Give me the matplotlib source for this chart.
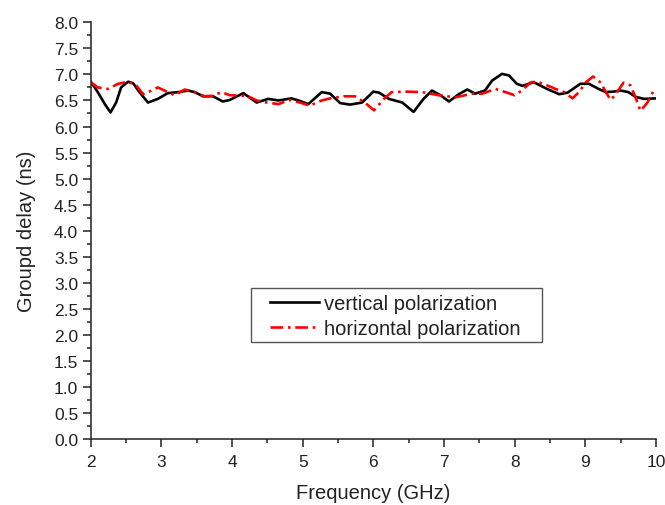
import matplotlib
matplotlib.use("Agg")
import matplotlib.pyplot as plt
from matplotlib.ticker import MultipleLocator, FormatStrFormatter
from matplotlib.patches import Rectangle

plt.rcParams['font.family'] = ['Liberation Sans', 'DejaVu Sans']

freq_v = [2.00, 2.10, 2.20, 2.28, 2.36, 2.43, 2.53, 2.60, 2.69, 2.81, 2.95, 3.09, 3.24, 3.38, 3.47,
          3.59, 3.73, 3.87, 3.97, 4.16, 4.35, 4.51, 4.66, 4.84, 4.94, 5.08, 5.27, 5.39, 5.53, 5.67,
          5.84, 6.00, 6.08, 6.22, 6.41, 6.57, 6.71, 6.83, 6.95, 7.07, 7.21, 7.33, 7.44, 7.58, 7.68,
          7.82, 7.92, 8.03, 8.11, 8.27, 8.46, 8.63, 8.75, 8.93, 9.05, 9.19, 9.29, 9.40, 9.50, 9.61,
          9.71, 9.83, 10.00]
delay_v = [6.86, 6.66, 6.43, 6.27, 6.46, 6.75, 6.86, 6.83, 6.66, 6.46, 6.53, 6.64, 6.66, 6.69, 6.66,
           6.58, 6.58, 6.48, 6.51, 6.64, 6.46, 6.53, 6.50, 6.54, 6.50, 6.43, 6.66, 6.63, 6.45, 6.42,
           6.46, 6.67, 6.65, 6.53, 6.46, 6.28, 6.53, 6.69, 6.60, 6.48, 6.62, 6.71, 6.63, 6.69, 6.88,
           7.01, 6.98, 6.82, 6.78, 6.85, 6.72, 6.62, 6.65, 6.82, 6.82, 6.72, 6.66, 6.67, 6.69, 6.66,
           6.57, 6.53, 6.54]

freq_h = [2.00, 2.10, 2.24, 2.39, 2.53, 2.65, 2.74, 2.83, 2.95, 3.09, 3.19, 3.33, 3.47, 3.61, 3.73,
          3.85, 3.97, 4.21, 4.35, 4.49, 4.66, 4.81, 4.96, 5.10, 5.27, 5.39, 5.58, 5.74, 5.88, 6.01,
          6.15, 6.26, 6.45, 6.69, 6.93, 7.16, 7.40, 7.54, 7.73, 7.87, 8.00, 8.09, 8.23, 8.32, 8.44,
          8.58, 8.70, 8.82, 8.91, 9.01, 9.11, 9.22, 9.29, 9.36, 9.43, 9.54, 9.64, 9.71, 9.78, 9.88,
          9.96]
delay_h = [6.85, 6.75, 6.72, 6.82, 6.86, 6.78, 6.62, 6.67, 6.75, 6.66, 6.60, 6.71, 6.66, 6.58, 6.59,
           6.66, 6.60, 6.59, 6.50, 6.46, 6.43, 6.51, 6.46, 6.40, 6.50, 6.54, 6.58, 6.58, 6.46, 6.31,
           6.53, 6.66, 6.67, 6.66, 6.60, 6.56, 6.63, 6.63, 6.72, 6.66, 6.60, 6.68, 6.85, 6.86, 6.80,
           6.72, 6.66, 6.54, 6.66, 6.85, 6.96, 6.84, 6.66, 6.51, 6.62, 6.84, 6.79, 6.56, 6.30, 6.46,
           6.67]

fig = plt.figure(figsize=(6.65, 5.06), dpi=100)
ax = fig.add_axes([0.1364, 0.130, 0.850, 0.824])

ax.plot(freq_v, delay_v, color='black', lw=1.9, label='vertical polarization')
ax.plot(freq_h, delay_h, color='red', lw=1.9, dashes=(4.8, 1.8, 1.0, 1.8), label='horizontal polarization')

ax.set_xlim(2, 10)
ax.set_ylim(0, 8)
ax.xaxis.set_major_locator(MultipleLocator(1))
ax.xaxis.set_minor_locator(MultipleLocator(0.5))
ax.yaxis.set_major_locator(MultipleLocator(0.5))
ax.yaxis.set_minor_locator(MultipleLocator(0.25))
ax.yaxis.set_major_formatter(FormatStrFormatter('%.1f'))
ax.spines['top'].set_visible(False)
ax.spines['right'].set_visible(False)
for s in ('left', 'bottom'):
    ax.spines[s].set_linewidth(1.1)
    ax.spines[s].set_color('#222222')
ax.tick_params(which='major', direction='out', length=6, width=1.1, labelsize=12.5,
               colors='#222222')
ax.tick_params(axis='y', which='major', pad=3)
ax.tick_params(axis='x', which='major', pad=5)
ax.tick_params(which='minor', direction='out', length=3, width=1.1, colors='#222222')
ax.set_xlabel('Frequency (GHz)', fontsize=14.5, color='#222222', labelpad=10)
ax.set_ylabel('Groupd delay (ns)', fontsize=14.5, color='#222222', labelpad=13)

leg = ax.legend(loc='upper left', bbox_to_anchor=(0.317, 0.348), fontsize=14.5, frameon=False,
                borderpad=0, handlelength=2.45, handletextpad=0.25, labelspacing=0.3,
                borderaxespad=0)
for t in leg.get_texts():
    t.set_color('#222222')
ax.add_patch(Rectangle((0.283, 0.2335), 0.515, 0.128, transform=ax.transAxes, fill=False,
                       edgecolor='#555555', linewidth=1.0, zorder=5))

fig.savefig('out.png', dpi=100)
